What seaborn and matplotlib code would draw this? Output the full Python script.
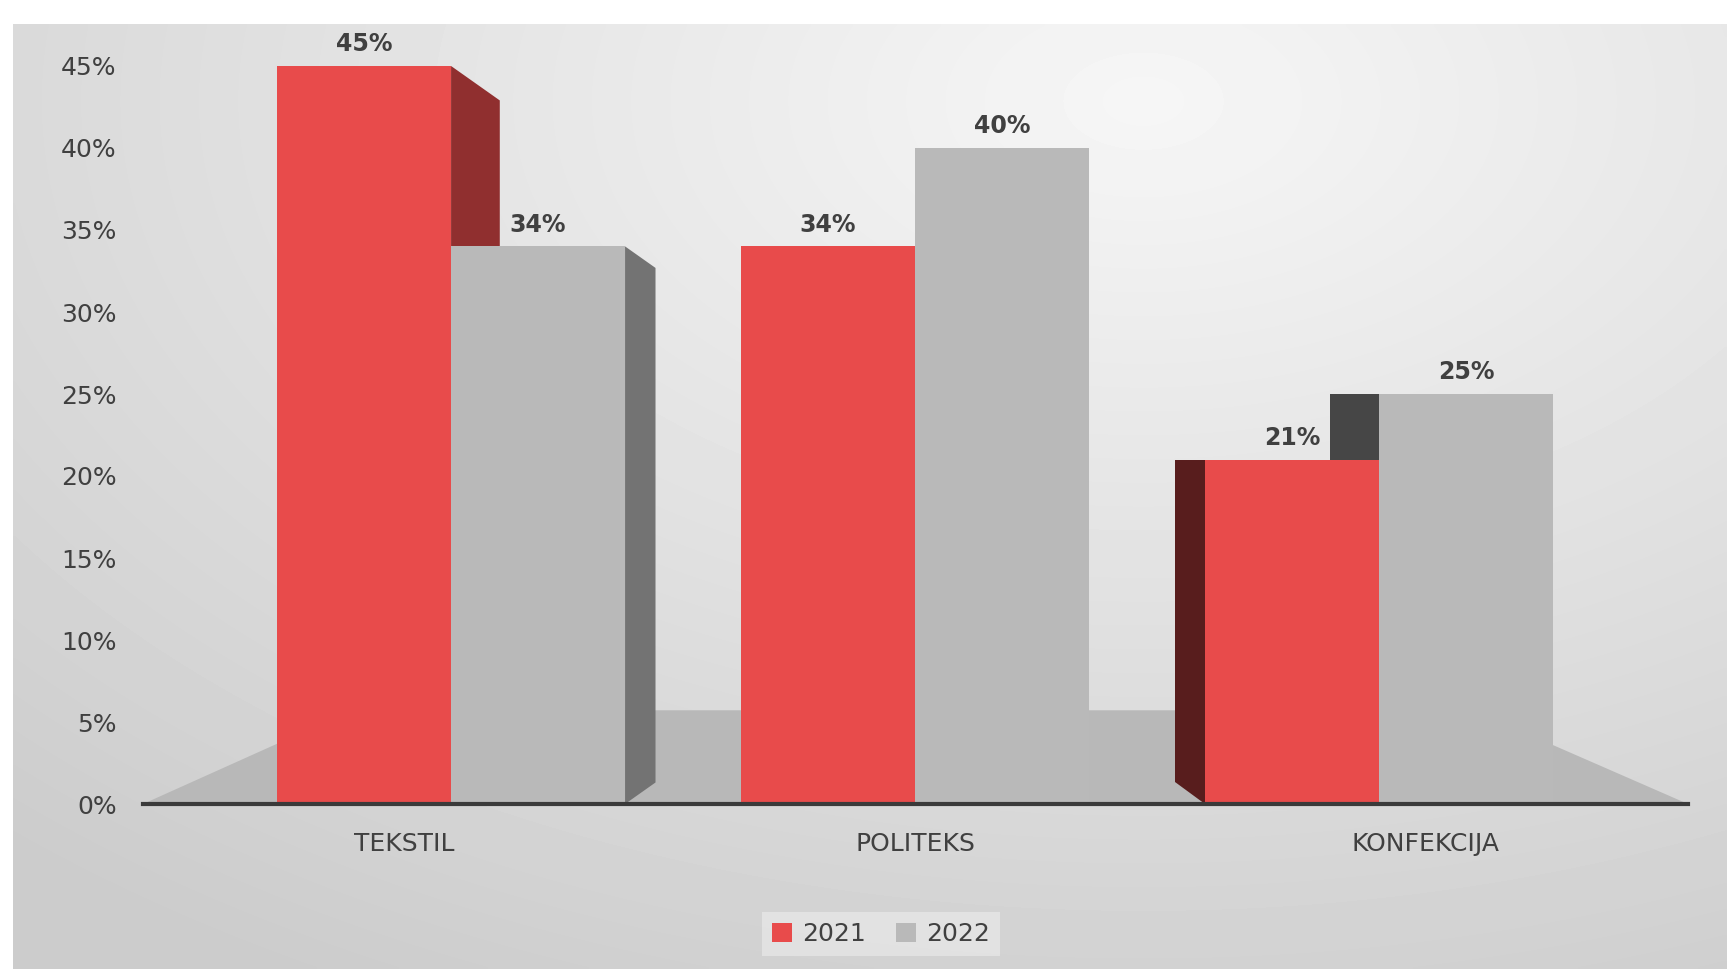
import numpy as np
import pandas as pd
import matplotlib
matplotlib.use("Agg")
import matplotlib.pyplot as plt
import matplotlib.transforms as mtransforms
import seaborn as sns
from matplotlib.patches import Polygon

# ---- data ----
categories = ["TEKSTIL", "POLITEKS", "KONFEKCIJA"]
years = ["2021", "2022"]
values_2021 = [45, 34, 21]
values_2022 = [34, 40, 25]
y_ticks = [0, 5, 10, 15, 20, 25, 30, 35, 40, 45]
y_tick_labels = ["0%", "5%", "10%", "15%", "20%", "25%", "30%", "35%", "40%", "45%"]

series_values = {"2021": values_2021, "2022": values_2022}
df = pd.DataFrame({
    "Kategorija": categories * 2,
    "Godina": [years[0]] * len(categories) + [years[1]] * len(categories),
    "Udio": values_2021 + values_2022,
})

RED = "#e84b4b"
GRAY = "#b9b9b9"
TEXT = "#404040"

sns.set_theme(style="white")
plt.rcParams["font.family"] = ["DejaVu Sans"]

W, H = 1727, 969
fig = plt.figure(figsize=(W / 100, H / 100), dpi=100)
fig.patch.set_facecolor("white")

# background gradient panel
bg = fig.add_axes([13 / W, 0, 1 - 13 / W, 1 - 24 / H], zorder=-10)
yy, xx = np.mgrid[0:1:240j, 0:1:420j]
d = np.sqrt(((xx - 0.66) / 1.0) ** 2 + ((yy - 0.08) / 1.1) ** 2)
val = np.clip(0.965 - 0.17 * d, 0.80, 0.975)
bg.imshow(val, cmap="gray", vmin=0, vmax=1, aspect="auto", interpolation="bilinear")
bg.axis("off")

ax = fig.add_axes([143 / W, (H - 804) / H, 1545 / W, 738 / H])
ax.patch.set_alpha(0)

sns.barplot(data=df, x="Kategorija", y="Udio", hue="Godina", hue_order=years,
            order=categories, palette=[RED, GRAY], width=0.75, saturation=1,
            errorbar=None, linewidth=0, ax=ax)

ax.set_xlim(-0.664, 2.666)
ax.set_ylim(0, 45)
ax.set_yticks(y_ticks)
ax.set_yticklabels(y_tick_labels)
ax.set_xlabel("")
ax.set_ylabel("")
ax.tick_params(axis="y", length=0, pad=19, labelsize=18, labelcolor=TEXT)
ax.tick_params(axis="x", length=0, pad=20, labelsize=18, labelcolor=TEXT)
for s in ["left", "top", "right"]:
    ax.spines[s].set_visible(False)
ax.spines["bottom"].set_color("#3a3a3a")
ax.spines["bottom"].set_linewidth(3)
ax.spines["bottom"].set_zorder(6)

# perspective shift of category labels
vx = (len(categories) - 1) / 2
for i, lab in enumerate(ax.get_xticklabels()):
    off = mtransforms.ScaledTranslation(0.47 * (i - vx), 0, fig.dpi_scale_trans)
    lab.set_transform(lab.get_transform() + off)

# floor (decoration)
floor = Polygon([(0, 0), (1, 0), (0.861, 0.127), (0.135, 0.127)], closed=True,
                transform=ax.transAxes, facecolor="#b8b8b8", edgecolor="none", zorder=0.5)
ax.add_patch(floor)

# pseudo-3D side faces derived from bar patches
for container in ax.containers:
    for p in container:
        p.set_zorder(3)
        x0, w, h = p.get_x(), p.get_width(), p.get_height()
        fc = np.array(p.get_facecolor()[:3])
        if x0 + w < vx:
            dist = vx - (x0 + w)
            if dist < 0.5:
                continue
            dep = 0.105 * dist
            drop = 20 * dep
            xe = x0 + w
            pts = [(xe, 0), (xe, h), (xe + dep, h - drop), (xe + dep, drop)]
            col = fc * 0.62
        elif x0 > vx:
            dist = x0 - vx
            if dist < 0.5:
                continue
            dep = 0.105 * dist
            drop = 20 * dep
            xe = x0
            pts = [(xe, 0), (xe, h), (xe - dep, h), (xe - dep, drop)]
            col = fc * 0.38
        else:
            continue
        ax.add_patch(Polygon(pts, closed=True, facecolor=col, edgecolor="none", zorder=1.5))

# data labels
for container, yr in zip(ax.containers, years):
    ax.bar_label(container, labels=[f"{v}%" for v in series_values[yr]], padding=7,
                 fontsize=17, fontweight="bold", color=TEXT, zorder=7)

# legend
handles, labels = ax.get_legend_handles_labels()
if ax.get_legend() is not None:
    ax.get_legend().remove()
leg = fig.legend(handles, labels, loc="center", bbox_to_anchor=(0.51, 0.036), ncol=2,
                 frameon=True, facecolor="#e6e6e6", edgecolor="none", fancybox=False,
                 fontsize=18, handlelength=0.8, handleheight=0.8, handletextpad=0.4,
                 columnspacing=1.2, borderpad=0.4)
for t in leg.get_texts():
    t.set_color(TEXT)

fig.savefig("out.png", dpi=100)
